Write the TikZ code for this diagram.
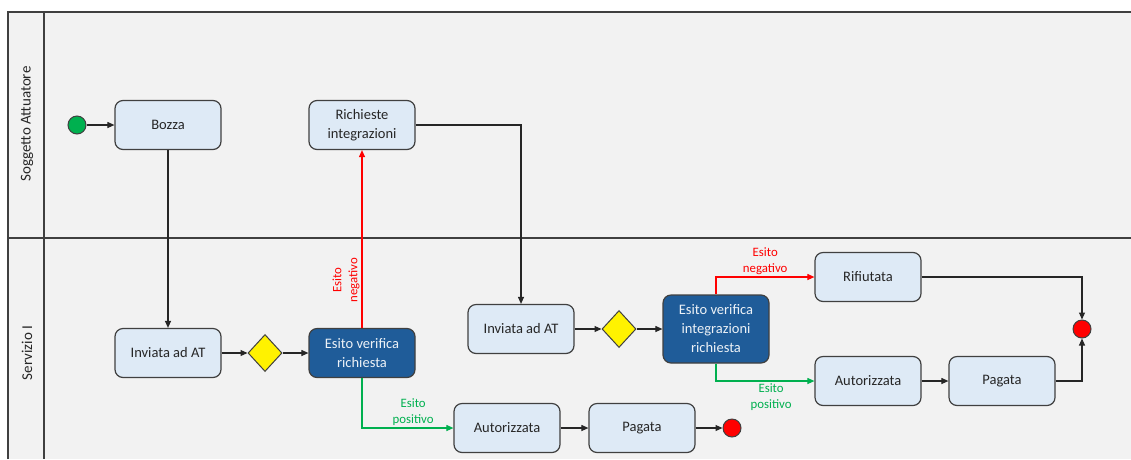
\documentclass[tikz,border=0pt]{standalone}
\usepackage{fontspec}
\setmainfont{Carlito}
\usepackage{xcolor}
\definecolor{cback}{rgb}{0.949,0.949,0.949}
\definecolor{cline}{rgb}{0.25,0.25,0.25}
\definecolor{ctask}{rgb}{0.871,0.918,0.965}
\definecolor{cdark}{rgb}{0.122,0.361,0.600}
\definecolor{ctext}{rgb}{0.15,0.15,0.15}
\definecolor{cgreen}{rgb}{0,0.69,0.31}
\definecolor{cred}{rgb}{1,0,0}
\usepackage{tikz}
\usetikzlibrary{positioning, shapes.geometric, arrows.meta}
\tikzset{
Task/.style={
	draw=cline, line width=1.2pt,
	rounded corners=8pt,
	fill=ctask, text=ctext,
	minimum width=106pt, minimum height=49pt,
	align=center, inner sep=2pt,
	font=\fontsize{14.5}{19}\selectfont
},
DarkTask/.style={
	Task,
	fill=cdark, text=white!92!cdark
},
Gateway/.style={
	draw=cline, line width=1pt, diamond,
	fill=yellow, inner sep=0pt,
	minimum width=34pt, minimum height=37pt
},
Event/.style={
	draw=cline, line width=1pt, circle,
	inner sep=0pt, minimum size=18pt
},
StartEvent/.style={
	Event,
	fill=cgreen
},
EndEvent/.style={
	Event,
	fill=cred
},
Flow/.style={
	draw=black!85, line width=1.1pt,
	-{Triangle[length=7pt,width=6pt]}
},
NegFlow/.style={
	Flow,
	draw=cred
},
PosFlow/.style={
	Flow,
	draw=cgreen
},
FlowLabel/.style={
	align=center, inner sep=2pt,
	font=\fontsize{12.8}{16}\selectfont
},
Lane/.style={
	rotate=90, text=ctext,
	font=\fontsize{15}{18}\selectfont
}
}

\begin{document}
\begin{tikzpicture}[x=1pt, y=-1pt]
	\useasboundingbox (0,0) rectangle (1131,459);
	% pool and lanes
	\fill[cback] (8,12) rectangle (1131,459);
	\draw[cline, line width=1.4pt] (8,459) -- (8,12) -- (1131,12);
	\draw[cline, line width=1.4pt] (44,12) -- (44,459);
	\draw[cline, line width=1.4pt] (8,238) -- (1131,238);
	\node[Lane] (lane1) at (27,124) {Soggetto Attuatore};
	\node[Lane] (lane2) at (27,353) {Servizio I};

	% first round
	\node[StartEvent] (start) at (77,125) {};
	\node[Task] (bozza) at (168,125) {Bozza};
	\node[Task, right of= bozza, node distance=194pt] (richieste) {Richieste\\integrazioni};
	\node[Task, below of= bozza, node distance=228pt] (inviata1) {Inviata ad AT};
	\node[Gateway, right of= inviata1, node distance=97pt] (gw1) {};
	\node[DarkTask, right of= gw1, node distance=97pt] (esito1) {Esito verifica\\richiesta};
	\node[Task] (aut1) at (507,428) {Autorizzata};
	\node[Task, right of= aut1, node distance=135pt] (pag1) {Pagata};
	\node[EndEvent, right of= pag1, node distance=90pt] (end1) {};

	% second round
	\node[Task] (inviata2) at (521,329) {Inviata ad AT};
	\node[Gateway, right of= inviata2, node distance=98pt] (gw2) {};
	\node[DarkTask, right of= gw2, node distance=97pt, minimum height=68pt] (esito2) {Esito verifica\\integrazioni\\richiesta};
	\node[Task] (rif) at (868,277) {Rifiutata};
	\node[Task] (aut2) at (868,381) {Autorizzata};
	\node[Task, right of= aut2, node distance=134pt] (pag2) {Pagata};
	\node[EndEvent] (end2) at (1082,329) {};

	\draw[Flow] (start) -- (bozza);
	\draw[Flow] (bozza) -- (inviata1);
	\draw[Flow] (inviata1) -- (gw1);
	\draw[Flow] (gw1) -- (esito1);
	\draw[NegFlow] (esito1) -- node[FlowLabel, text=cred, rotate=90, anchor=south, pos=0.27] {Esito\\negativo} (richieste);
	\draw[PosFlow] (esito1) |- node[FlowLabel, text=cgreen, above, pos=0.78] {Esito\\positivo} (aut1);
	\draw[Flow] (aut1) -- (pag1);
	\draw[Flow] (pag1) -- (end1);

	\draw[Flow] (richieste) -| (inviata2);
	\draw[Flow] (inviata2) -- (gw2);
	\draw[Flow] (gw2) -- (esito2);
	\draw[NegFlow] (esito2) |- node[FlowLabel, text=cred, above, pos=0.75] {Esito\\negativo} (rif);
	\draw[PosFlow] (esito2) |- node[FlowLabel, text=cgreen, below, pos=0.78] {Esito\\positivo} (aut2);
	\draw[Flow] (aut2) -- (pag2);
	\draw[Flow] (rif) -| (end2);
	\draw[Flow] (pag2) -| (end2);
\end{tikzpicture}
\end{document}
